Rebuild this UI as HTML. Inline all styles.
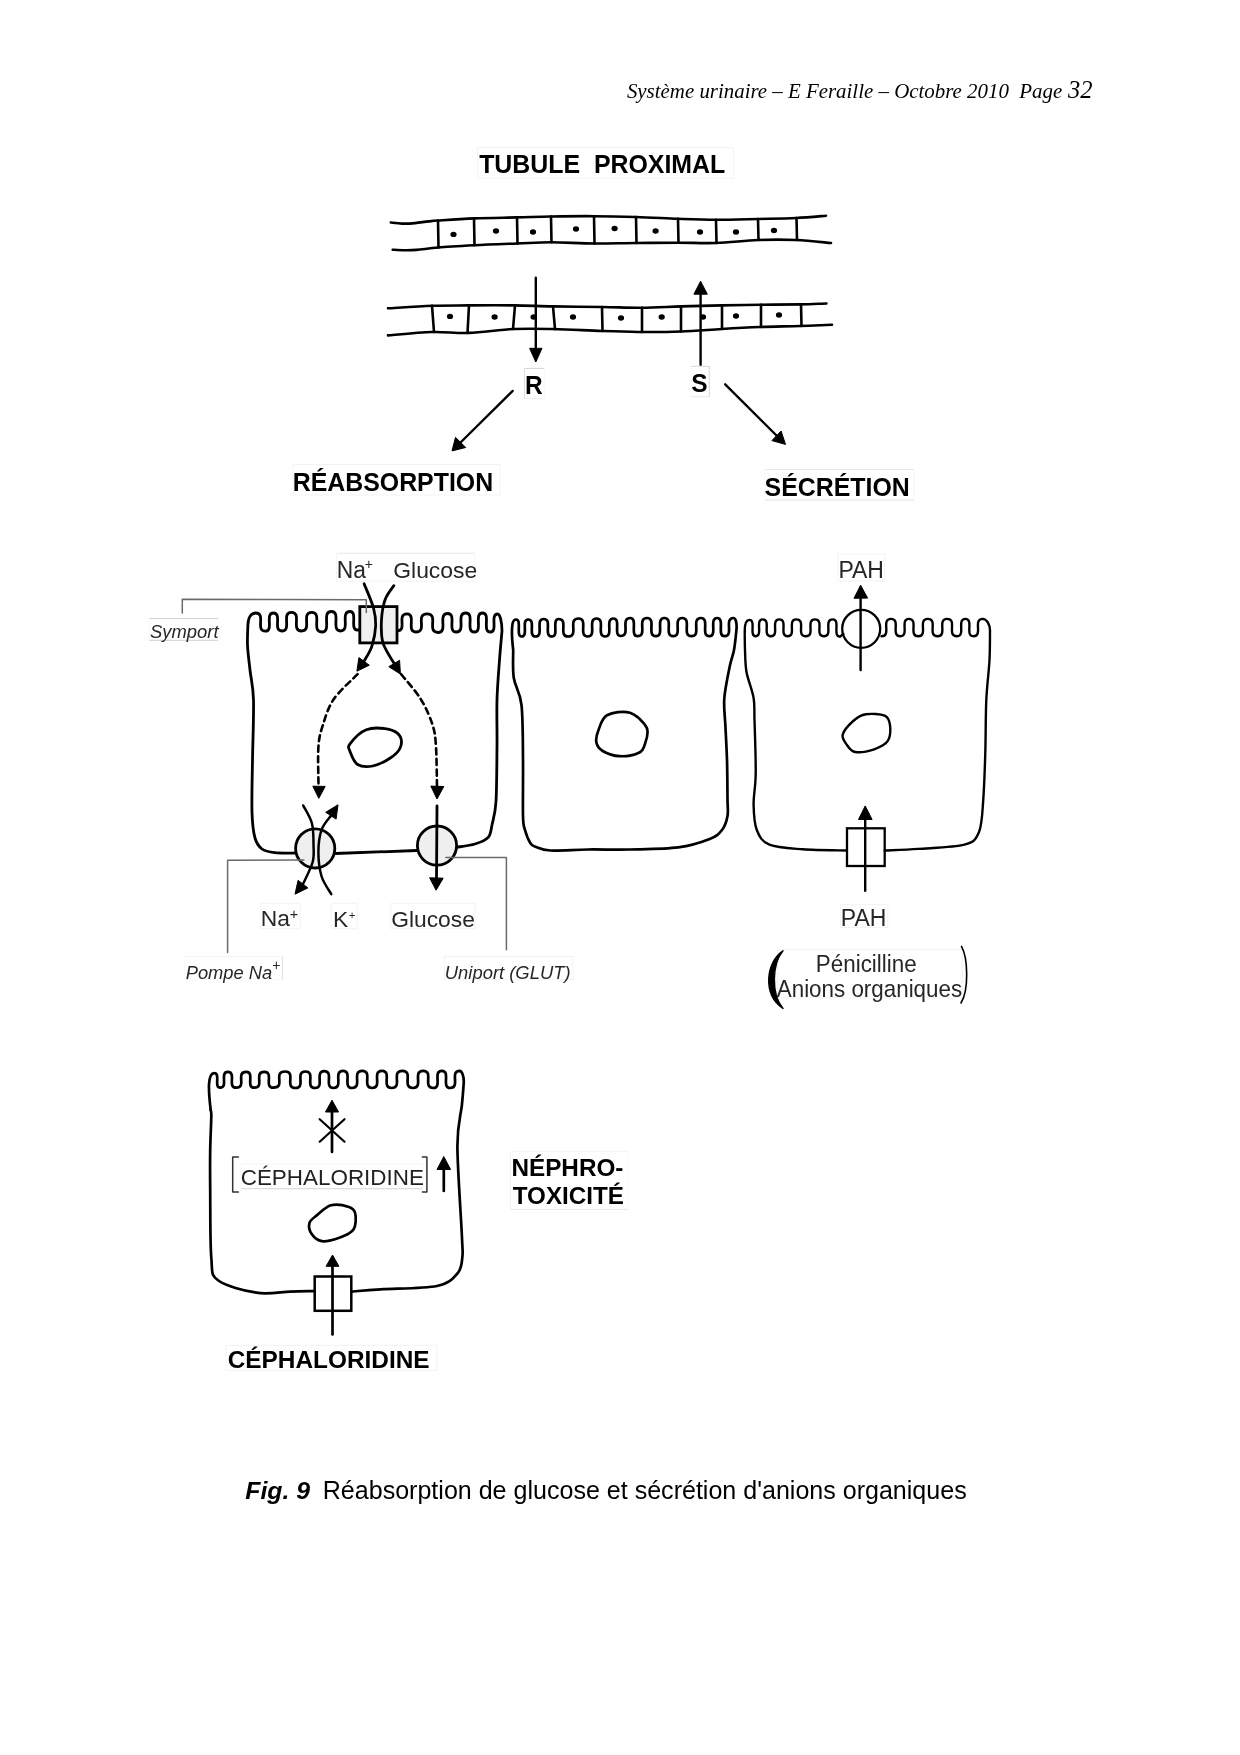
<!DOCTYPE html>
<html><head><meta charset="utf-8"><style>
html,body{margin:0;padding:0;background:#fff;}
body{width:1240px;height:1755px;overflow:hidden;position:relative;}
svg{position:absolute;left:0;top:0;will-change:transform;}
</style></head><body>
<svg width="1240" height="1755" viewBox="0 0 1240 1755">
<text x="626.89" y="98.10" font-family='"Liberation Serif", serif' font-size="20.9" font-weight="normal" font-style="italic" fill="#000" style="white-space:pre" >Système urinaire – E Feraille – Octobre 2010  Page</text>
<text x="1068.05" y="97.70" font-family='"Liberation Serif", serif' font-size="24.5" font-weight="normal" font-style="italic" fill="#000" style="white-space:pre" >32</text>
<rect x="477.4" y="147.7" width="256.0" height="30.3" fill="none" stroke="#f3f3f3" stroke-width="1"/>
<text transform="translate(479.15,172.80) scale(1,1.05)" font-family='"Liberation Sans", sans-serif' font-size="24.9" font-weight="bold" font-style="normal" fill="#000" style="white-space:pre" >TUBULE  PROXIMAL</text>
<path d="M390.8,222.5 C392.7,222.7 398.0,223.5 402.0,223.6 C406.0,223.7 410.6,223.5 415.0,223.1 C419.4,222.7 424.6,221.8 428.5,221.4 C432.4,221.0 430.6,221.0 438.2,220.5 C445.8,220.0 460.9,218.9 474.0,218.4 C487.1,217.9 504.2,217.7 517.0,217.4 C529.8,217.1 538.2,216.7 551.0,216.5 C563.8,216.3 579.8,216.1 594.0,216.2 C608.2,216.3 622.0,216.6 636.0,217.0 C650.0,217.4 664.7,218.3 678.0,218.8 C691.3,219.3 702.7,219.8 716.0,219.8 C729.3,219.8 744.7,219.3 758.0,219.0 C771.3,218.7 784.7,218.6 796.0,218.0 C807.3,217.4 821.0,216.1 826.0,215.7" fill="none" stroke="#000" stroke-width="2.6" stroke-linecap="round" stroke-linejoin="round" />
<path d="M392.7,249.7 C394.6,249.8 400.4,250.2 404.4,250.2 C408.3,250.2 410.8,250.3 416.4,249.9 C422.0,249.5 428.6,248.3 438.2,247.5 C447.8,246.7 460.9,246.0 474.0,245.3 C487.1,244.6 504.2,244.0 517.0,243.5 C529.8,243.0 538.2,242.2 551.0,242.2 C563.8,242.2 579.8,243.4 594.0,243.5 C608.2,243.6 622.0,243.1 636.0,243.0 C650.0,242.9 664.7,242.7 678.0,242.7 C691.3,242.7 702.7,243.4 716.0,243.0 C729.3,242.6 744.7,240.5 758.0,240.0 C771.3,239.5 783.8,239.5 796.0,240.0 C808.2,240.5 825.2,242.5 831.0,243.0" fill="none" stroke="#000" stroke-width="2.6" stroke-linecap="round" stroke-linejoin="round" />
<path d="M438,220.5 L438.5,247.5" fill="none" stroke="#000" stroke-width="2.6" stroke-linecap="round" stroke-linejoin="round" />
<path d="M474,218.4 L474.5,245.3" fill="none" stroke="#000" stroke-width="2.6" stroke-linecap="round" stroke-linejoin="round" />
<path d="M517,217.4 L517.5,243.5" fill="none" stroke="#000" stroke-width="2.6" stroke-linecap="round" stroke-linejoin="round" />
<path d="M551,216.5 L551.5,242.2" fill="none" stroke="#000" stroke-width="2.6" stroke-linecap="round" stroke-linejoin="round" />
<path d="M594,216.2 L594.5,243.5" fill="none" stroke="#000" stroke-width="2.6" stroke-linecap="round" stroke-linejoin="round" />
<path d="M636,217.0 L636.5,243.0" fill="none" stroke="#000" stroke-width="2.6" stroke-linecap="round" stroke-linejoin="round" />
<path d="M678,218.8 L678.5,242.7" fill="none" stroke="#000" stroke-width="2.6" stroke-linecap="round" stroke-linejoin="round" />
<path d="M716,219.8 L716.5,243.0" fill="none" stroke="#000" stroke-width="2.6" stroke-linecap="round" stroke-linejoin="round" />
<path d="M758,219.0 L758.5,240.0" fill="none" stroke="#000" stroke-width="2.6" stroke-linecap="round" stroke-linejoin="round" />
<path d="M796.5,218.0 L797.0,240.0" fill="none" stroke="#000" stroke-width="2.6" stroke-linecap="round" stroke-linejoin="round" />
<ellipse cx="453.5" cy="234.4" rx="3.1" ry="2.7" fill="#000"/>
<ellipse cx="496" cy="231" rx="3.1" ry="2.7" fill="#000"/>
<ellipse cx="533" cy="232" rx="3.1" ry="2.7" fill="#000"/>
<ellipse cx="576" cy="229" rx="3.1" ry="2.7" fill="#000"/>
<ellipse cx="614.6" cy="228.5" rx="3.1" ry="2.7" fill="#000"/>
<ellipse cx="655.6" cy="231" rx="3.1" ry="2.7" fill="#000"/>
<ellipse cx="700" cy="232" rx="3.1" ry="2.7" fill="#000"/>
<ellipse cx="736" cy="232" rx="3.1" ry="2.7" fill="#000"/>
<ellipse cx="774" cy="230.5" rx="3.1" ry="2.7" fill="#000"/>
<path d="M388.0,308.3 C395.3,307.9 418.5,306.3 432.0,305.8 C445.5,305.3 455.4,305.5 469.0,305.4 C482.6,305.3 499.5,305.2 513.5,305.4 C527.5,305.6 538.2,306.1 553.0,306.4 C567.8,306.7 587.7,306.8 602.5,307.0 C617.3,307.2 628.5,307.8 641.6,307.7 C654.7,307.6 667.7,306.8 681.0,306.4 C694.3,306.0 708.2,305.7 721.5,305.4 C734.8,305.1 747.5,305.0 760.6,304.8 C773.7,304.6 789.0,304.6 800.0,304.4 C811.0,304.2 822.0,303.6 826.4,303.5" fill="none" stroke="#000" stroke-width="2.6" stroke-linecap="round" stroke-linejoin="round" />
<path d="M388.0,335.4 C395.3,334.8 418.5,332.4 432.0,332.0 C445.5,331.6 455.4,333.4 469.0,332.9 C482.6,332.4 499.5,329.6 513.5,329.0 C527.5,328.4 538.2,328.7 553.0,329.0 C567.8,329.3 587.2,330.5 602.0,331.0 C616.8,331.5 628.4,331.9 641.6,332.0 C654.8,332.1 667.7,332.0 681.0,331.5 C694.3,331.0 708.2,329.8 721.5,329.0 C734.8,328.2 747.5,327.5 760.6,327.0 C773.7,326.5 788.1,326.4 800.0,326.0 C811.9,325.6 826.7,325.0 832.0,324.8" fill="none" stroke="#000" stroke-width="2.6" stroke-linecap="round" stroke-linejoin="round" />
<path d="M432,305.8 L434,332.0" fill="none" stroke="#000" stroke-width="2.6" stroke-linecap="round" stroke-linejoin="round" />
<path d="M469,305.4 L467.5,332.9" fill="none" stroke="#000" stroke-width="2.6" stroke-linecap="round" stroke-linejoin="round" />
<path d="M515,305.4 L513,329.0" fill="none" stroke="#000" stroke-width="2.6" stroke-linecap="round" stroke-linejoin="round" />
<path d="M553,306.4 L555,329.1" fill="none" stroke="#000" stroke-width="2.6" stroke-linecap="round" stroke-linejoin="round" />
<path d="M602,307.0 L602.5,331.0" fill="none" stroke="#000" stroke-width="2.6" stroke-linecap="round" stroke-linejoin="round" />
<path d="M642,307.7 L642,332.0" fill="none" stroke="#000" stroke-width="2.6" stroke-linecap="round" stroke-linejoin="round" />
<path d="M681,306.4 L681,331.5" fill="none" stroke="#000" stroke-width="2.6" stroke-linecap="round" stroke-linejoin="round" />
<path d="M722,305.4 L722,329.0" fill="none" stroke="#000" stroke-width="2.6" stroke-linecap="round" stroke-linejoin="round" />
<path d="M761,304.8 L761,327.0" fill="none" stroke="#000" stroke-width="2.6" stroke-linecap="round" stroke-linejoin="round" />
<path d="M801,304.4 L801.5,325.9" fill="none" stroke="#000" stroke-width="2.6" stroke-linecap="round" stroke-linejoin="round" />
<ellipse cx="450" cy="316.4" rx="3.1" ry="2.7" fill="#000"/>
<ellipse cx="494.6" cy="317" rx="3.1" ry="2.7" fill="#000"/>
<ellipse cx="533.6" cy="317" rx="3.1" ry="2.7" fill="#000"/>
<ellipse cx="573" cy="317" rx="3.1" ry="2.7" fill="#000"/>
<ellipse cx="621" cy="318" rx="3.1" ry="2.7" fill="#000"/>
<ellipse cx="661.7" cy="317" rx="3.1" ry="2.7" fill="#000"/>
<ellipse cx="703" cy="317" rx="3.1" ry="2.7" fill="#000"/>
<ellipse cx="736" cy="316" rx="3.1" ry="2.7" fill="#000"/>
<ellipse cx="779" cy="315" rx="3.1" ry="2.7" fill="#000"/>
<path d="M535.8,277.7 L535.8,350" fill="none" stroke="#000" stroke-width="2.4" stroke-linecap="round" stroke-linejoin="round" />
<path d="M535.8,362.0 L529.6,348.3 L542.0,348.3Z" fill="#000" stroke="#000" stroke-width="1" stroke-linejoin="round"/>
<path d="M700.6,364.8 L700.6,293" fill="none" stroke="#000" stroke-width="2.4" stroke-linecap="round" stroke-linejoin="round" />
<path d="M700.6,281.2 L707.3,294.2 L693.9,294.2Z" fill="#000" stroke="#000" stroke-width="1" stroke-linejoin="round"/>
<line x1="524.4" y1="368.4" x2="544.5" y2="368.4" stroke="#d2d2d2" stroke-width="1"/>
<line x1="524.4" y1="398.4" x2="544.5" y2="398.4" stroke="#eeeeee" stroke-width="1"/>
<line x1="524.4" y1="368.4" x2="524.4" y2="398.4" stroke="#dedede" stroke-width="1"/>
<line x1="544.5" y1="368.4" x2="544.5" y2="398.4" stroke="#f8f8f8" stroke-width="1"/>
<text transform="translate(524.88,394.00) scale(1,1.04)" font-family='"Liberation Sans", sans-serif' font-size="24.5" font-weight="bold" font-style="normal" fill="#000" style="white-space:pre" >R</text>
<line x1="691" y1="366.4" x2="709.3" y2="366.4" stroke="#dadada" stroke-width="1"/>
<line x1="691" y1="396.6" x2="709.3" y2="396.6" stroke="#ebebeb" stroke-width="1"/>
<line x1="691" y1="366.4" x2="691" y2="396.6" stroke="#f8f8f8" stroke-width="1"/>
<line x1="709.3" y1="366.4" x2="709.3" y2="396.6" stroke="#d8d8d8" stroke-width="1"/>
<text transform="translate(691.31,392.20) scale(1,1.04)" font-family='"Liberation Sans", sans-serif' font-size="24.5" font-weight="bold" font-style="normal" fill="#000" style="white-space:pre" >S</text>
<path d="M512.7,390.9 L459,444" fill="none" stroke="#000" stroke-width="2.4" stroke-linecap="round" stroke-linejoin="round" />
<path d="M452.0,450.9 L455.5,437.3 L465.7,447.5Z" fill="#000" stroke="#000" stroke-width="1" stroke-linejoin="round"/>
<path d="M725.2,384.3 L777,436" fill="none" stroke="#000" stroke-width="2.4" stroke-linecap="round" stroke-linejoin="round" />
<path d="M785.5,444.4 L771.9,440.6 L781.1,431.0Z" fill="#000" stroke="#000" stroke-width="1" stroke-linejoin="round"/>
<rect x="293" y="464.5" width="207.0" height="30.5" fill="none" stroke="#f3f3f3" stroke-width="1"/>
<text transform="translate(292.66,490.70) scale(1,1.025)" font-family='"Liberation Sans", sans-serif' font-size="24.9" font-weight="bold" font-style="normal" fill="#000" style="white-space:pre" >RÉABSORPTION</text>
<line x1="765" y1="469.5" x2="914" y2="469.5" stroke="#e6e6e6" stroke-width="1"/>
<line x1="765" y1="500" x2="914" y2="500" stroke="#e2e2e2" stroke-width="1"/>
<line x1="765" y1="469.5" x2="765" y2="500" stroke="#f8f8f8" stroke-width="1"/>
<line x1="914" y1="469.5" x2="914" y2="500" stroke="#f6f6f6" stroke-width="1"/>
<text transform="translate(764.55,495.75) scale(1,1.025)" font-family='"Liberation Sans", sans-serif' font-size="24.9" font-weight="bold" font-style="normal" fill="#000" style="white-space:pre" >SÉCRÉTION</text>
<path d="M295.0,853.0 C291.7,853.0 280.5,853.4 275.0,852.7 C269.5,852.0 265.3,851.5 262.0,849.0 C258.7,846.5 256.7,844.1 255.0,838.0 C253.3,831.9 252.4,825.4 252.0,812.4 C251.6,799.4 252.2,778.7 252.5,760.0 C252.8,741.3 253.9,715.0 253.5,700.0 C253.1,685.0 251.0,679.2 250.0,670.0 C249.0,660.8 247.8,652.5 247.5,645.0 C247.2,637.5 247.8,628.3 247.9,625.0 C248,617 251.5,613 255.8,613 C266.4,613.0 254.8,631.2 265.4,631.2 C274.1,631.2 264.6,613.0 273.3,613.0 C282.7,613.0 272.4,631.0 281.8,631.0 C292.4,631.0 280.8,612.3 291.4,612.3 C302.5,612.3 290.4,631.0 301.5,631.0 C312.7,631.0 300.5,612.3 311.7,612.3 C322.8,612.3 310.7,632.0 321.8,632.0 C332.4,632.0 320.8,611.5 331.4,611.5 C341.4,611.5 330.5,631.0 340.5,631.0 C350.9,631.0 339.6,611.5 350.0,611.5 C358.1,611.5 349.3,630.0 357.4,630.0 L359.8,630" fill="none" stroke="#000" stroke-width="2.8" stroke-linecap="round" stroke-linejoin="round" />
<path d="M397,631 C408.0,631.0 396.0,613.9 407.0,613.9 C416.5,613.9 406.1,632.0 415.6,632.0 C428.4,632.0 414.4,613.9 427.2,613.9 C439.2,613.9 426.1,632.5 438.1,632.5 C448.6,632.5 437.2,613.5 447.6,613.5 C457.2,613.5 446.7,632.0 456.3,632.0 C466.6,632.0 455.4,613.0 465.7,613.0 C475.3,613.0 464.8,632.0 474.4,632.0 C483.2,632.0 473.6,613.0 482.4,613.0 C491.2,613.0 481.6,632.0 490.4,632.0 C498.3,632.0 489.7,614.0 497.6,614.0 C500,614 502,622 502,631  C501.6,635.8 500.3,648.5 499.5,660.0 C498.7,671.5 497.4,685.5 497.0,700.0 C496.6,714.5 497.2,730.1 497.0,747.0 C496.8,763.9 496.8,788.5 496.0,801.5 C495.2,814.5 493.3,819.0 492.0,825.0 C490.7,831.0 491.0,834.2 488.2,837.4 C485.4,840.6 480.2,842.4 475.0,844.0 C469.8,845.6 460.0,846.7 457.0,847.2" fill="none" stroke="#000" stroke-width="2.8" stroke-linecap="round" stroke-linejoin="round" />
<path d="M335.3,853.5 L416.8,850.5" fill="none" stroke="#000" stroke-width="2.8" stroke-linecap="round" stroke-linejoin="round" />
<rect x="359.8" y="606.6" width="37.2" height="36.3" fill="#efefef" stroke="#000" stroke-width="2.8"/>
<circle cx="315.2" cy="848.4" r="19.6" fill="#efefef" stroke="#000" stroke-width="2.8"/>
<circle cx="437" cy="845.6" r="19.6" fill="#efefef" stroke="#000" stroke-width="2.8"/>
<path d="M350.0,743.8 C352.7,740.2 360.0,732.1 366.3,729.7 C372.6,727.3 382.4,728.1 388.0,729.2 C393.6,730.3 398.0,733.0 400.0,736.2 C402.0,739.4 401.6,744.6 400.0,748.2 C398.4,751.8 394.8,755.0 390.3,758.0 C385.8,761.0 378.2,764.9 372.8,766.0 C367.4,767.1 361.4,766.9 357.6,764.5 C353.8,762.1 351.3,754.9 350.0,751.4 C348.7,747.9 347.3,747.4 350.0,743.8Z" fill="none" stroke="#000" stroke-width="2.8" stroke-linecap="round" stroke-linejoin="round" />
<path d="M364.1,583.7 C365.7,587.8 371.6,601.0 373.5,608.0 C375.4,615.0 375.9,619.2 375.7,625.5 C375.4,631.8 373.9,639.8 372.0,645.8 C370.1,651.8 365.3,658.8 364.0,661.4" fill="none" stroke="#000" stroke-width="2.8" stroke-linecap="round" stroke-linejoin="round" />
<path d="M356.9,671.2 L358.9,657.6 L369.3,665.2Z" fill="#000" stroke="#000" stroke-width="1" stroke-linejoin="round"/>
<path d="M393.9,585.6 C392.4,587.9 387.3,593.7 385.2,599.4 C383.1,605.1 381.9,612.5 381.5,619.7 C381.1,627.0 380.9,635.6 383.0,642.9 C385.1,650.2 392.3,660.1 394.2,663.5" fill="none" stroke="#000" stroke-width="2.8" stroke-linecap="round" stroke-linejoin="round" />
<path d="M400.4,674.1 L388.8,666.7 L399.6,660.3Z" fill="#000" stroke="#000" stroke-width="1" stroke-linejoin="round"/>
<path d="M357.6,674.2 C353.6,678.4 339.5,690.7 333.7,699.2 C327.9,707.7 325.4,717.4 322.8,725.4 C320.2,733.4 319.1,736.9 318.4,747.0 C317.7,757.1 318.5,779.5 318.5,786.0" fill="none" stroke="#000" stroke-width="2.6" stroke-linecap="round" stroke-linejoin="round" stroke-dasharray="6 4.5" stroke-linecap="butt"/>
<path d="M318.8,798.3 L312.8,786.2 L325.2,786.4Z" fill="#000" stroke="#000" stroke-width="1" stroke-linejoin="round"/>
<path d="M401.2,674.2 C404.5,678.4 415.6,690.7 420.8,699.2 C426.1,707.7 430.2,717.4 432.7,725.4 C435.2,733.4 435.3,736.9 436.0,747.0 C436.7,757.1 436.8,779.5 437.0,786.0" fill="none" stroke="#000" stroke-width="2.6" stroke-linecap="round" stroke-linejoin="round" stroke-dasharray="6 4.5" stroke-linecap="butt"/>
<path d="M437.0,799.0 L430.8,786.1 L443.8,786.5Z" fill="#000" stroke="#000" stroke-width="1" stroke-linejoin="round"/>
<path d="M331.3,894.2 C329.7,891.2 323.8,883.5 321.6,876.5 C319.5,869.5 318.4,860.1 318.4,852.3 C318.4,844.5 319.5,835.8 321.6,829.7 C323.7,823.6 329.3,818.0 330.9,815.7" fill="none" stroke="#000" stroke-width="2.5" stroke-linecap="round" stroke-linejoin="round" />
<path d="M338.0,804.8 L336.1,819.1 L325.7,812.3Z" fill="#000" stroke="#000" stroke-width="1" stroke-linejoin="round"/>
<path d="M303.2,805.5 C304.6,808.5 310.2,816.8 311.9,823.3 C313.6,829.8 313.4,837.8 313.5,844.2 C313.6,850.7 314.4,855.4 312.7,862.0 C310.9,868.6 304.6,880.4 303.0,884.1" fill="none" stroke="#000" stroke-width="2.5" stroke-linecap="round" stroke-linejoin="round" />
<path d="M295.0,894.2 L298.1,880.3 L307.9,887.9Z" fill="#000" stroke="#000" stroke-width="1" stroke-linejoin="round"/>
<path d="M437,806 L436.5,879" fill="none" stroke="#000" stroke-width="2.8" stroke-linecap="round" stroke-linejoin="round" />
<path d="M436.1,890.2 L429.6,877.8 L443.2,878.2Z" fill="#000" stroke="#000" stroke-width="1" stroke-linejoin="round"/>
<path d="M182.3,613 L182.3,599.3 L366.3,599.8 L366.3,612.5" fill="none" stroke="#6a6a6a" stroke-width="1.5" stroke-linecap="round" stroke-linejoin="round" stroke-linecap="butt" stroke-linejoin="miter"/>
<path d="M303.9,860 L227.6,860.3 L227.6,952.5" fill="none" stroke="#6a6a6a" stroke-width="1.5" stroke-linecap="round" stroke-linejoin="round" stroke-linecap="butt" stroke-linejoin="miter"/>
<path d="M445.8,857.4 L506.4,857.6 L506.4,949.8" fill="none" stroke="#6a6a6a" stroke-width="1.5" stroke-linecap="round" stroke-linejoin="round" stroke-linecap="butt" stroke-linejoin="miter"/>
<line x1="336.5" y1="553.2" x2="475" y2="553.2" stroke="#e8e8e8" stroke-width="1"/>
<line x1="336.5" y1="581.2" x2="475" y2="581.2" stroke="#f4f4f4" stroke-width="1"/>
<line x1="336.5" y1="553.2" x2="336.5" y2="581.2" stroke="#f4f4f4" stroke-width="1"/>
<line x1="475" y1="553.2" x2="475" y2="581.2" stroke="#f6f6f6" stroke-width="1"/>
<text transform="translate(336.73,578.20) scale(1,1.03)" font-family='"Liberation Sans", sans-serif' font-size="22.8" font-weight="normal" font-style="normal" fill="#262626" style="white-space:pre" >Na</text>
<text x="364.83" y="568.90" font-family='"Liberation Sans", sans-serif' font-size="14" font-weight="normal" font-style="normal" fill="#262626" style="white-space:pre" >+</text>
<text x="393.25" y="578.10" font-family='"Liberation Sans", sans-serif' font-size="22.9" font-weight="normal" font-style="normal" fill="#262626" style="white-space:pre" >Glucose</text>
<line x1="149.2" y1="618.6" x2="218.1" y2="618.6" stroke="#d0d0d0" stroke-width="1"/>
<line x1="149.2" y1="640.3" x2="218.1" y2="640.3" stroke="#d0d0d0" stroke-width="1"/>
<line x1="149.2" y1="618.6" x2="149.2" y2="640.3" stroke="#f8f8f8" stroke-width="1"/>
<line x1="218.1" y1="618.6" x2="218.1" y2="640.3" stroke="#f8f8f8" stroke-width="1"/>
<text transform="translate(150.08,637.90) scale(1,1.03)" font-family='"Liberation Sans", sans-serif' font-size="18.4" font-weight="normal" font-style="italic" fill="#262626" style="white-space:pre" >Symport</text>
<rect x="260.8" y="903.3" width="39.6" height="25.4" fill="none" stroke="#f3f3f3" stroke-width="1"/>
<text x="260.73" y="926.20" font-family='"Liberation Sans", sans-serif' font-size="22.8" font-weight="normal" font-style="normal" fill="#262626" style="white-space:pre" >Na</text>
<text x="289.70" y="919.40" font-family='"Liberation Sans", sans-serif' font-size="14.5" font-weight="normal" font-style="normal" fill="#262626" style="white-space:pre" >+</text>
<rect x="331" y="903.3" width="26.3" height="25.4" fill="none" stroke="#f3f3f3" stroke-width="1"/>
<text x="333.03" y="926.50" font-family='"Liberation Sans", sans-serif' font-size="22.8" font-weight="normal" font-style="normal" fill="#262626" style="white-space:pre" >K</text>
<text x="348.85" y="918.60" font-family='"Liberation Sans", sans-serif' font-size="11.4" font-weight="normal" font-style="normal" fill="#262626" style="white-space:pre" >+</text>
<rect x="390.9" y="903.3" width="84.1" height="25.4" fill="none" stroke="#f3f3f3" stroke-width="1"/>
<text x="391.26" y="926.50" font-family='"Liberation Sans", sans-serif' font-size="22.8" font-weight="normal" font-style="normal" fill="#262626" style="white-space:pre" >Glucose</text>
<line x1="184" y1="956.5" x2="282.5" y2="956.5" stroke="#f6f6f6" stroke-width="1"/>
<line x1="184" y1="979.6" x2="282.5" y2="979.6" stroke="#f8f8f8" stroke-width="1"/>
<line x1="184" y1="956.5" x2="184" y2="979.6" stroke="#fafafa" stroke-width="1"/>
<line x1="282.5" y1="956.5" x2="282.5" y2="979.6" stroke="#e2e2e2" stroke-width="1"/>
<text x="185.75" y="978.60" font-family='"Liberation Sans", sans-serif' font-size="18.3" font-weight="normal" font-style="italic" fill="#262626" style="white-space:pre" >Pompe Na</text>
<text x="272.23" y="970.10" font-family='"Liberation Sans", sans-serif' font-size="14" font-weight="normal" font-style="normal" fill="#262626" style="white-space:pre" >+</text>
<rect x="444.6" y="956.5" width="128.4" height="23.1" fill="none" stroke="#f3f3f3" stroke-width="1"/>
<text x="444.84" y="978.60" font-family='"Liberation Sans", sans-serif' font-size="18.4" font-weight="normal" font-style="italic" fill="#262626" style="white-space:pre" >Uniport (GLUT)</text>
<path d="M513.2,650 C512,640 511.5,630 512.5,624 C513.2,620 514.5,619.5 516.1,619.5 C522.0,619.5 515.6,636.5 521.5,636.5 C528.9,636.5 520.8,619.5 528.2,619.5 C536.2,619.5 527.5,636.5 535.5,636.5 C544.5,636.5 534.7,619.0 543.7,619.0 C552.8,619.0 542.9,636.5 552.0,636.5 C559.4,636.5 551.3,619.0 558.7,619.0 C568.9,619.0 557.8,636.5 568.0,636.5 C579.7,636.5 566.9,618.5 578.6,618.5 C588.7,618.5 577.7,636.5 587.8,636.5 C597.4,636.5 586.9,618.5 596.5,618.5 C606.1,618.5 595.6,636.5 605.2,636.5 C614.2,636.5 604.4,618.5 613.4,618.5 C621.5,618.5 612.7,636.0 620.8,636.0 C631.1,636.0 619.9,618.0 630.2,618.0 C638.2,618.0 629.5,636.2 637.5,636.2 C648.0,636.2 636.5,618.0 647.0,618.0 C656.8,618.0 646.1,636.2 655.9,636.2 C665.1,636.2 655.1,618.0 664.3,618.0 C674.1,618.0 663.4,636.2 673.2,636.2 C683.0,636.2 672.3,618.0 682.1,618.0 C692.4,618.0 681.2,636.2 691.5,636.2 C702.0,636.2 690.5,618.0 701.0,618.0 C710.1,618.0 700.2,636.2 709.3,636.2 C718.0,636.2 708.5,618.0 717.2,618.0 C725.2,618.0 716.5,636.2 724.5,636.2 C734.4,636.2 723.6,618.0 733.5,618.0 C735.5,618 736.8,622 736.6,628  C736.2,631.7 735.2,643.5 734.0,650.0 C732.8,656.5 731.2,658.9 729.6,667.0 C728.0,675.1 725.0,688.7 724.3,698.5 C723.6,708.3 724.9,715.5 725.4,725.8 C725.9,736.0 726.6,747.8 727.0,760.0 C727.4,772.2 727.4,789.9 727.5,799.2 C727.6,808.5 728.4,810.9 727.5,816.0 C726.6,821.1 725.0,826.2 722.0,830.0 C719.0,833.8 717.0,836.1 709.7,839.0 C702.4,841.9 691.5,845.6 678.2,847.4 C664.9,849.1 645.0,849.1 630.0,849.5 C615.0,849.9 601.3,849.3 588.0,849.5 C574.7,849.7 559.0,850.9 550.3,850.5 C541.6,850.1 539.3,848.2 536.0,847.0 C532.7,845.8 532.2,846.0 530.4,843.2 C528.6,840.4 526.2,834.5 525.0,830.0 C523.8,825.5 523.3,827.7 523.0,816.0 C522.7,804.3 523.2,778.5 523.0,760.0 C522.8,741.5 523.0,718.7 521.5,705.0 C520.0,691.3 515.2,687.2 513.8,678.0 C512.4,668.8 513.3,654.7 513.2,650.0" fill="none" stroke="#000" stroke-width="2.7" stroke-linecap="round" stroke-linejoin="round" />
<path d="M596.4,742.6 C595.7,739.1 596.7,734.5 598.5,730.0 C600.3,725.5 601.8,718.2 607.0,715.3 C612.2,712.4 623.4,710.7 630.0,712.8 C636.6,714.9 644.3,722.6 646.8,727.9 C649.2,733.2 646.1,740.5 644.7,744.7 C643.3,748.9 642.6,751.1 638.4,753.0 C634.2,754.9 625.5,756.5 619.5,756.2 C613.5,755.9 606.6,753.3 602.7,751.0 C598.9,748.7 597.1,746.1 596.4,742.6Z" fill="none" stroke="#000" stroke-width="2.7" stroke-linecap="round" stroke-linejoin="round" />
<path d="M847.0,850.5 C839.6,850.3 815.8,850.3 802.9,849.3 C790.0,848.3 777.1,847.9 769.4,844.7 C761.7,841.5 759.4,836.6 756.8,830.0 C754.2,823.4 753.8,814.2 753.6,804.8 C753.4,795.4 755.6,787.5 755.7,773.4 C755.9,759.3 754.9,732.6 754.5,720.0 C754.1,707.4 754.9,706.0 753.6,698.0 C752.3,690.0 747.9,680.0 746.5,672.0 C745.1,664.0 745.3,656.8 745.0,650.0 C744.7,643.2 744.8,634.5 744.7,631.4 C744.7,624 746.5,619.9 749.4,619.9 C756.3,619.9 748.8,636.2 755.7,636.2 C763.2,636.2 755.0,619.4 762.5,619.4 C771.7,619.4 761.7,636.2 770.9,636.2 C780.1,636.2 770.1,619.4 779.3,619.4 C788.5,619.4 778.5,636.2 787.7,636.2 C796.9,636.2 786.9,619.4 796.1,619.4 C807.0,619.4 795.1,636.2 806.0,636.2 C815.9,636.2 805.1,619.4 815.0,619.4 C824.8,619.4 814.1,636.2 823.9,636.2 C833.7,636.2 823.0,619.4 832.8,619.4 C840.8,619.4 832.1,636.7 840.1,636.7 L843.3,634" fill="none" stroke="#000" stroke-width="2.4" stroke-linecap="round" stroke-linejoin="round" />
<path d="M881.5,636.2 C892.0,636.2 880.5,618.9 891.0,618.9 C901.3,618.9 890.1,636.2 900.4,636.2 C909.6,636.2 899.6,618.9 908.8,618.9 C919.1,618.9 907.9,636.2 918.2,636.2 C928.7,636.2 917.2,618.9 927.7,618.9 C938.6,618.9 926.7,636.2 937.6,636.2 C947.9,636.2 936.7,618.9 947.0,618.9 C958.0,618.9 946.0,636.2 957.0,636.2 C966.2,636.2 956.2,618.9 965.4,618.9 C974.1,618.9 964.6,636.2 973.3,636.2 C983.6,636.2 972.4,618.9 982.7,618.9 C987,619 990,625 990,630.4  C989.9,635.3 990.1,648.4 989.5,660.0 C988.9,671.6 987.0,684.6 986.3,700.0 C985.6,715.4 985.8,735.6 985.3,752.4 C984.8,769.2 984.2,787.3 983.2,800.6 C982.2,813.9 982.1,824.6 979.0,832.0 C975.9,839.4 974.5,841.9 964.4,844.7 C954.3,847.5 931.5,847.9 918.2,848.9 C904.9,849.9 890.3,850.2 884.7,850.5" fill="none" stroke="#000" stroke-width="2.4" stroke-linecap="round" stroke-linejoin="round" />
<circle cx="861.2" cy="628.8" r="19" fill="none" stroke="#000" stroke-width="2.3"/>
<path d="M860.6,670 L860.6,597" fill="none" stroke="#000" stroke-width="2.4" stroke-linecap="round" stroke-linejoin="round" />
<path d="M860.6,585.2 L867.6,598.1 L854.0,598.3Z" fill="#000" stroke="#000" stroke-width="1" stroke-linejoin="round"/>
<rect x="847" y="828.3" width="37.7" height="37.7" fill="none" stroke="#000" stroke-width="2.3"/>
<path d="M865.2,890.8 L865.2,818" fill="none" stroke="#000" stroke-width="2.4" stroke-linecap="round" stroke-linejoin="round" />
<path d="M865.2,805.9 L872.1,819.5 L858.5,819.5Z" fill="#000" stroke="#000" stroke-width="1" stroke-linejoin="round"/>
<path d="M842.7,734.6 C843.7,730.6 849.4,724.4 853.2,721.0 C857.1,717.6 860.5,715.2 865.8,714.3 C871.0,713.4 880.7,713.9 884.7,715.7 C888.7,717.5 889.5,721.0 890.0,725.2 C890.5,729.4 890.4,736.9 887.8,740.9 C885.2,744.9 879.6,747.4 874.2,749.3 C868.8,751.1 859.8,752.7 855.3,752.0 C850.8,751.3 849.1,747.9 847.0,745.0 C844.9,742.1 841.7,738.6 842.7,734.6Z" fill="none" stroke="#000" stroke-width="2.4" stroke-linecap="round" stroke-linejoin="round" />
<rect x="838" y="554.2" width="46.7" height="26.8" fill="none" stroke="#f3f3f3" stroke-width="1"/>
<text transform="translate(838.41,578.40) scale(1,1.04)" font-family='"Liberation Sans", sans-serif' font-size="23.0" font-weight="normal" font-style="normal" fill="#262626" style="white-space:pre" >PAH</text>
<rect x="840.6" y="904.4" width="47.2" height="23.1" fill="none" stroke="#f3f3f3" stroke-width="1"/>
<text transform="translate(840.81,926.40) scale(1,1.04)" font-family='"Liberation Sans", sans-serif' font-size="23.0" font-weight="normal" font-style="normal" fill="#262626" style="white-space:pre" >PAH</text>
<rect x="777.3" y="949.5" width="185.0" height="48.2" fill="none" stroke="#f3f3f3" stroke-width="1"/>
<text transform="translate(815.86,972.30) scale(1,1.09)" font-family='"Liberation Sans", sans-serif' font-size="22.4" font-weight="normal" font-style="normal" fill="#262626" style="white-space:pre" >Pénicilline</text>
<text transform="translate(776.76,996.80) scale(1,1.09)" font-family='"Liberation Sans", sans-serif' font-size="22.4" font-weight="normal" font-style="normal" fill="#262626" style="white-space:pre" >Anions organiques</text>
<path d="M783,950.8 C766,962 762,994 783,1008.5 C771,994 772,964 783,950.8Z" fill="#000" stroke="#000" stroke-width="1.4" stroke-linejoin="round"/>
<path d="M961.5,946.4 C968,958 969,990 961,1003" fill="none" stroke="#000" stroke-width="1.6" stroke-linecap="round" stroke-linejoin="round" />
<path d="M210.7,1110 C209.5,1100 208.8,1090 209,1084.4 C209.5,1077 211,1073.1 214.1,1073.1 C220.9,1073.1 213.5,1087.7 220.3,1087.7 C228.4,1087.7 219.6,1071.9 227.7,1071.9 C236.9,1071.9 226.9,1087.7 236.1,1087.7 C247.3,1087.7 235.1,1071.9 246.3,1071.9 C255.0,1071.9 245.5,1087.7 254.2,1087.7 C265.3,1087.7 253.2,1071.9 264.3,1071.9 C274.3,1071.9 263.4,1087.7 273.4,1087.7 C286.4,1087.7 272.2,1071.5 285.2,1071.5 C296.4,1071.5 284.2,1088.0 295.4,1088.0 C306.5,1088.0 294.4,1071.5 305.5,1071.5 C316.1,1071.5 304.5,1088.0 315.1,1088.0 C325.1,1088.0 314.2,1071.2 324.2,1071.2 C334.5,1071.2 323.3,1088.0 333.6,1088.0 C343.9,1088.0 332.7,1070.8 343.0,1070.8 C352.9,1070.8 342.1,1088.0 352.0,1088.0 C363.2,1088.0 351.0,1070.8 362.2,1070.8 C373.3,1070.8 361.2,1088.0 372.3,1088.0 C382.9,1088.0 371.3,1070.8 381.9,1070.8 C392.5,1070.8 380.9,1088.0 391.5,1088.0 C403.4,1088.0 390.4,1070.8 402.3,1070.8 C414.1,1070.8 401.2,1088.0 413.0,1088.0 C424.1,1088.0 412.0,1070.8 423.1,1070.8 C434.3,1070.8 422.1,1088.0 433.3,1088.0 C442.7,1088.0 432.4,1070.8 441.8,1070.8 C451.0,1070.8 441.0,1088.0 450.2,1088.0 C460.8,1088.0 449.2,1070.8 459.8,1070.8 C462,1071 463.8,1076 463.8,1082  C463.5,1085.8 463.0,1094.4 461.9,1105.0 C460.8,1115.6 457.4,1124.0 457.4,1145.8 C457.4,1167.6 461.1,1217.3 461.9,1236.0 C462.7,1254.7 463.1,1251.5 462.3,1257.7 C461.6,1264.0 461.6,1268.8 457.4,1273.5 C453.2,1278.2 449.8,1283.4 437.0,1286.0 C424.2,1288.6 394.9,1288.4 380.6,1289.3 C366.3,1290.2 356.2,1291.2 351.3,1291.6" fill="none" stroke="#000" stroke-width="2.7" stroke-linecap="round" stroke-linejoin="round" />
<path d="M314.7,1291.1 C310.6,1291.2 300.0,1291.3 290.3,1291.6 C280.6,1291.9 268.4,1294.6 256.4,1292.7 C244.3,1290.8 225.5,1286.1 218.0,1280.3 C210.5,1274.5 212.6,1272.8 211.3,1257.7 C210.0,1242.7 210.4,1207.9 210.2,1190.0 C210.0,1172.1 210.0,1162.6 210.2,1150.3 C210.4,1138.0 211.2,1123.1 211.3,1116.4 C211.4,1109.7 210.8,1111.1 210.7,1110.0" fill="none" stroke="#000" stroke-width="2.7" stroke-linecap="round" stroke-linejoin="round" />
<rect x="314.7" y="1276.5" width="36.6" height="34.3" fill="none" stroke="#000" stroke-width="2.5"/>
<path d="M332.5,1334.5 L332.5,1265" fill="none" stroke="#000" stroke-width="2.7" stroke-linecap="round" stroke-linejoin="round" />
<path d="M332.5,1255.0 L338.9,1266.3 L326.1,1266.3Z" fill="#000" stroke="#000" stroke-width="1" stroke-linejoin="round"/>
<path d="M309.5,1222.8 C310.4,1219.6 313.8,1217.8 317.4,1214.9 C321.0,1212.0 325.7,1206.5 331.0,1205.2 C336.3,1203.9 344.9,1205.6 349.0,1207.0 C353.1,1208.4 354.6,1210.0 355.3,1213.8 C356.1,1217.6 356.1,1225.7 353.5,1229.6 C350.9,1233.6 345.3,1235.6 340.0,1237.5 C334.7,1239.4 326.6,1241.8 321.9,1241.2 C317.2,1240.6 313.8,1237.2 311.7,1234.1 C309.6,1231.0 308.6,1226.0 309.5,1222.8Z" fill="none" stroke="#000" stroke-width="2.7" stroke-linecap="round" stroke-linejoin="round" />
<path d="M332,1152 L332,1111" fill="none" stroke="#000" stroke-width="2.7" stroke-linecap="round" stroke-linejoin="round" />
<path d="M332.0,1100.2 L338.5,1112.0 L325.5,1112.0Z" fill="#000" stroke="#000" stroke-width="1" stroke-linejoin="round"/>
<path d="M319.7,1119.2 L344.5,1141.7 M344.5,1119.2 L319.7,1141.7" fill="none" stroke="#000" stroke-width="2.2" stroke-linecap="round" stroke-linejoin="round" />
<path d="M238.4,1157 L232.7,1157 L232.7,1192 L238.4,1192" fill="none" stroke="#333" stroke-width="1.5" stroke-linecap="round" stroke-linejoin="round" stroke-linecap="butt" stroke-linejoin="miter"/>
<path d="M422.4,1157 L426.9,1157 L426.9,1192 L422.4,1192" fill="none" stroke="#333" stroke-width="1.5" stroke-linecap="round" stroke-linejoin="round" stroke-linecap="butt" stroke-linejoin="miter"/>
<line x1="241" y1="1163.9" x2="423" y2="1163.9" stroke="#f4f4f4" stroke-width="1"/>
<line x1="241" y1="1188.7" x2="423" y2="1188.7" stroke="#d6d6d6" stroke-width="1"/>
<line x1="241" y1="1163.9" x2="241" y2="1188.7" stroke="#f8f8f8" stroke-width="1"/>
<line x1="423" y1="1163.9" x2="423" y2="1188.7" stroke="#f8f8f8" stroke-width="1"/>
<text x="240.68" y="1184.60" font-family='"Liberation Sans", sans-serif' font-size="22.45" font-weight="normal" font-style="normal" fill="#222" style="white-space:pre" >CÉPHALORIDINE</text>
<path d="M443.8,1191 L443.8,1168" fill="none" stroke="#000" stroke-width="2.7" stroke-linecap="round" stroke-linejoin="round" />
<path d="M443.8,1156.6 L450.6,1169.5 L437.0,1169.5Z" fill="#000" stroke="#000" stroke-width="1" stroke-linejoin="round"/>
<rect x="226" y="1345.3" width="211.0" height="25.3" fill="none" stroke="#f3f3f3" stroke-width="1"/>
<text transform="translate(227.72,1368.30) scale(1,0.98)" font-family='"Liberation Sans", sans-serif' font-size="24.4" font-weight="bold" font-style="normal" fill="#000" style="white-space:pre" >CÉPHALORIDINE</text>
<line x1="510.6" y1="1151.6" x2="627.8" y2="1151.6" stroke="#f6f6f6" stroke-width="1"/>
<line x1="510.6" y1="1209.4" x2="627.8" y2="1209.4" stroke="#e8e8e8" stroke-width="1"/>
<line x1="510.6" y1="1151.6" x2="510.6" y2="1209.4" stroke="#f2f2f2" stroke-width="1"/>
<line x1="627.8" y1="1151.6" x2="627.8" y2="1209.4" stroke="#f8f8f8" stroke-width="1"/>
<text x="511.40" y="1175.50" font-family='"Liberation Sans", sans-serif' font-size="24.3" font-weight="bold" font-style="normal" fill="#000" style="white-space:pre" >NÉPHRO-</text>
<text x="512.76" y="1203.90" font-family='"Liberation Sans", sans-serif' font-size="24.2" font-weight="bold" font-style="normal" fill="#000" style="white-space:pre" >TOXICITÉ</text>
<text x="245.30" y="1498.80" font-family='"Liberation Sans", sans-serif' font-size="24.8" font-weight="bold" font-style="italic" fill="#000" style="white-space:pre" >Fig. 9</text>
<text x="322.75" y="1498.80" font-family='"Liberation Sans", sans-serif' font-size="25.05" font-weight="normal" font-style="normal" fill="#000" style="white-space:pre" >Réabsorption de glucose et sécrétion d'anions organiques</text>
</svg>
</body></html>
